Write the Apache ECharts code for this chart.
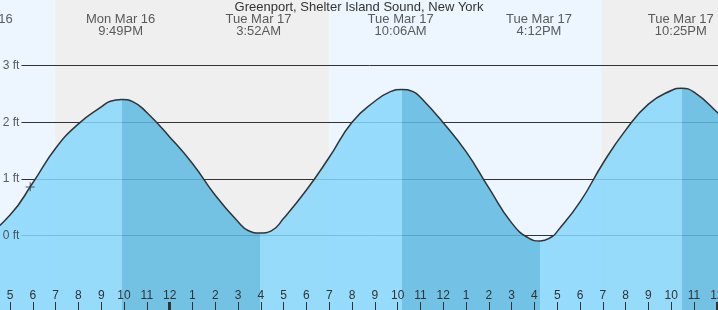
<!DOCTYPE html>
<html>
<head>
<meta charset="utf-8">
<script src="https://cdn.jsdelivr.net/npm/echarts@6/dist/echarts.min.js"></script>
<style>
html,body{margin:0;padding:0;background:#edf6fe;}
#chart{width:718px;height:310px;}
</style>
</head>
<body>
<div id="chart"></div>
<script>
// ---- DATA (hours since Mon Mar 16 00:00, heights in ft) ----
const titleText = 'Greenport, Shelter Island Sound, New York';
const curveTimes = [15.6, 16, 17, 18, 19, 20, 21, 21.4, 21.9, 22.4, 23, 24, 25, 26, 27, 27.46, 27.96, 28.46, 29, 30, 31, 32, 33, 33.68, 34.18, 34.68, 35, 36, 37, 38, 39, 39.75, 40.25, 40.75, 41, 42, 43, 44, 45, 46, 46.45, 47, 48, 49];
const curveHeights = [0.05, 0.07, 0.36, 0.93, 1.54, 1.97, 2.27, 2.37, 2.40, 2.36, 2.17, 1.74, 1.27, 0.71, 0.24, 0.08, 0.04, 0.08, 0.30, 0.80, 1.38, 2.00, 2.37, 2.54, 2.58, 2.54, 2.44, 1.99, 1.48, 0.84, 0.22, -0.05, -0.10, -0.03, 0.07, 0.59, 1.27, 1.86, 2.32, 2.56, 2.60, 2.53, 2.18, 1.75];
const eventTimes = [15.6, 21.85, 27.9, 34.13, 40.2, 46.42];
const eventDates = ['Mon Mar 16', 'Mon Mar 16', 'Tue Mar 17', 'Tue Mar 17', 'Tue Mar 17', 'Tue Mar 17'];
const eventClock = ['3:36PM', '9:49PM', '3:52AM', '10:06AM', '4:12PM', '10:25PM'];
const ebbStarts = [21.9, 34.18, 46.45];
const ebbEnds = [27.96, 40.25];
const nightStarts = [18.98, 42.94];
const nightEnds = [30.98, 50];
const gridFeet = [0, 1, 2, 3];
const hourTicks = [17,18,19,20,21,22,23,24,25,26,27,28,29,30,31,32,33,34,35,36,37,38,39,40,41,42,43,44,45,46,47,48];
const midnightTicks = [24, 48];
const nowTime = 17.88;
const nowHeight = 0.86;

// ---- LAYOUT / STYLE ----
const X_MIN = 16.56, X_MAX = 48.05;
const Y_MIN = -1.32, Y_MAX = 4.16;
const GRID_START = 17.50;
const LABEL_Y = 3.707;
const FONT = 'Liberation Sans, Arial, sans-serif';
const TEXT = '#333';
const LIGHT = 'rgba(135,215,252,0.85)';
const DARK = 'rgba(93,185,225,0.85)';
const NIGHT = '#efefef';

const curveData = curveTimes.map((t, i) => [t, curveHeights[i]]);

// ebb (high -> low) pieces darker
const pieces = [];
let prev = null;
ebbStarts.forEach((h, i) => {
  const p = { color: LIGHT, lt: h };
  if (prev !== null) p.gte = prev;
  pieces.push(p);
  const d = { color: DARK, gte: h };
  if (ebbEnds[i] !== undefined) d.lt = ebbEnds[i];
  pieces.push(d);
  prev = ebbEnds[i] !== undefined ? ebbEnds[i] : null;
});

const nightAreas = nightStarts.map((s, i) => [{ xAxis: s }, { xAxis: nightEnds[i] }]);
const gridLines = gridFeet.map(f => [{ coord: [GRID_START, f] }, { coord: [X_MAX, f] }]);

const chart = echarts.init(document.getElementById('chart'), null, { renderer: 'canvas' });
chart.setOption({
  animation: false,
  backgroundColor: '#edf6fe',
  title: {
    text: titleText, left: 'center', top: 1, padding: 0,
    textStyle: { fontSize: 13, fontWeight: 'normal', color: TEXT, fontFamily: FONT }
  },
  grid: { left: 0, right: 0, top: 0, bottom: 0, containLabel: false, outerBoundsMode: 'none' },
  xAxis: [{
    type: 'value', min: X_MIN, max: X_MAX, z: 10, position: 'bottom',
    axisLine: { show: false, onZero: false }, splitLine: { show: false },
    axisTick: { show: true, inside: true, length: 8, customValues: hourTicks, lineStyle: { color: TEXT, width: 1 } },
    axisLabel: {
      show: true, inside: true, margin: 8, customValues: hourTicks, hideOverlap: false,
      color: TEXT, fontSize: 12, fontFamily: FONT,
      formatter: v => { const h = Math.round(v) % 12; return String(h === 0 ? 12 : h); }
    }
  }, {
    type: 'value', min: X_MIN, max: X_MAX, z: 11, position: 'bottom',
    axisLine: { show: false, onZero: false }, splitLine: { show: false },
    axisTick: { show: true, inside: true, length: 8, customValues: midnightTicks, lineStyle: { color: TEXT, width: 3 } },
    axisLabel: { show: false }
  }],
  yAxis: { type: 'value', min: Y_MIN, max: Y_MAX, show: false, splitLine: { show: false } },
  visualMap: {
    type: 'piecewise', show: false, dimension: 0, seriesIndex: 1, pieces: pieces
  },
  series: [{
    type: 'line', data: [], z: 1, silent: true,
    markArea: { silent: true, z: 1, label: { show: false }, itemStyle: { color: NIGHT }, data: nightAreas },
    markLine: {
      silent: true, z: 2, symbol: 'none', animation: false,
      lineStyle: { color: TEXT, width: 1, type: 'solid' },
      label: { show: false },
      emphasis: { disabled: true },
      data: gridLines
    }
  }, {
    type: 'line', data: curveData, smooth: true, showSymbol: false, z: 3, silent: true,
    lineStyle: { opacity: 0, width: 0 },
    areaStyle: { origin: 'start', opacity: 1 }
  }, {
    type: 'line', data: curveData, smooth: true, showSymbol: false, z: 4, silent: true,
    lineStyle: { color: '#333', width: 1.5 }, itemStyle: { color: '#333' }
  }, {
    type: 'scatter', z: 6, silent: true, clip: false,
    data: [[nowTime, nowHeight]],
    symbol: 'path://M0,4.2H9V5.2H0Z M4.1,0H5.1V9H4.1Z', symbolSize: 9,
    itemStyle: { color: '#333' }
  }, {
    type: 'scatter', z: 6, silent: true, clip: false, symbolSize: 0,
    data: eventTimes.map((t, i) => [t, LABEL_Y, i]),
    label: {
      show: true, position: 'inside', color: TEXT, fontSize: 13, lineHeight: 12, fontFamily: FONT,
      formatter: p => eventDates[p.data[2]] + '\n' + eventClock[p.data[2]]
    }
  }, {
    type: 'scatter', z: 6, silent: true, clip: false, symbolSize: 0,
    data: gridFeet.map(f => [GRID_START, f]),
    label: {
      show: true, position: 'left', distance: 2, color: TEXT, fontSize: 12, fontFamily: FONT,
      formatter: p => p.data[1] + ' ft'
    }
  }]
});
</script>
</body>
</html>
